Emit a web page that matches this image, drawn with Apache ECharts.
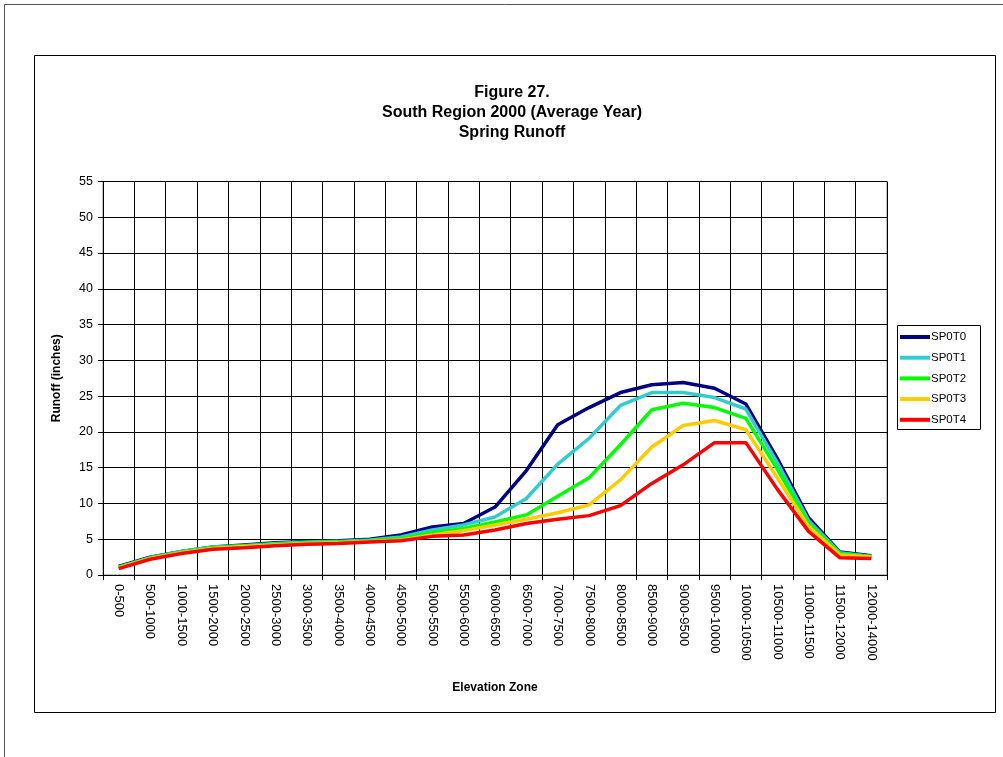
<!DOCTYPE html>
<html>
<head>
<meta charset="utf-8">
<title>Spring Runoff</title>
<script src="https://cdn.jsdelivr.net/npm/echarts@6/dist/echarts.min.js"></script>
<style>
  html, body { margin: 0; padding: 0; background: #fff; }
  #chart { width: 1003px; height: 757px; }
</style>
</head>
<body>
<div id="chart"></div>
<script>
// Elevation zones (feet)
const zones = [
  '0-500', '500-1000', '1000-1500', '1500-2000', '2000-2500', '2500-3000',
  '3000-3500', '3500-4000', '4000-4500', '4500-5000', '5000-5500', '5500-6000',
  '6000-6500', '6500-7000', '7000-7500', '7500-8000', '8000-8500', '8500-9000',
  '9000-9500', '9500-10000', '10000-10500', '10500-11000', '11000-11500',
  '11500-12000', '12000-14000'
];

// Spring runoff (inches) per scenario
const sp0t0 = [1.2, 2.5, 3.3, 3.9, 4.2, 4.5, 4.7, 4.8, 5.0, 5.6, 6.7, 7.2, 9.5, 14.6, 21.0, 23.4, 25.5, 26.6, 26.9, 26.1, 23.9, 16.3, 8.0, 3.2, 2.7];
const sp0t1 = [1.1, 2.4, 3.3, 3.9, 4.1, 4.4, 4.6, 4.7, 4.9, 5.3, 6.3, 7.0, 8.1, 10.7, 15.5, 19.1, 23.7, 25.5, 25.5, 24.8, 23.2, 15.7, 7.6, 3.1, 2.6];
const sp0t2 = [1.1, 2.4, 3.2, 3.8, 4.1, 4.3, 4.5, 4.6, 4.8, 5.1, 5.9, 6.5, 7.4, 8.4, 11.0, 13.6, 18.2, 23.1, 24.0, 23.4, 21.9, 14.8, 7.2, 3.0, 2.6];
const sp0t3 = [1.0, 2.3, 3.1, 3.7, 4.0, 4.2, 4.4, 4.5, 4.7, 4.9, 5.6, 6.2, 7.0, 7.8, 8.7, 9.8, 13.3, 17.9, 20.9, 21.6, 20.3, 13.6, 6.8, 2.8, 2.5];
const sp0t4 = [0.9, 2.2, 3.0, 3.6, 3.8, 4.1, 4.3, 4.4, 4.6, 4.8, 5.4, 5.6, 6.3, 7.2, 7.8, 8.3, 9.7, 12.8, 15.4, 18.5, 18.5, 12.0, 6.1, 2.4, 2.3];

const seriesNames = ['SP0T0', 'SP0T1', 'SP0T2', 'SP0T3', 'SP0T4'];
const seriesData = [sp0t0, sp0t1, sp0t2, sp0t3, sp0t4];
const seriesColors = ['#000080', '#33CCCC', '#00FF00', '#FFCC00', '#FF0000'];

const FONT = '"Liberation Sans", Arial, sans-serif';

const chart = echarts.init(document.getElementById('chart'), null, { renderer: 'canvas' });

chart.setOption({
  backgroundColor: '#ffffff',
  animation: false,
  title: {
    text: 'Figure 27.\nSouth Region 2000 (Average Year)\nSpring Runoff',
    left: 512,
    top: 83,
    padding: 0,
    textAlign: 'center',
    textStyle: { fontFamily: FONT, fontSize: 16, fontWeight: 'bold', color: '#000', lineHeight: 20 }
  },
  graphic: [
    {
      type: 'rect', silent: true, z: -1,
      shape: { x: 4.5, y: 4.5, width: 1020, height: 780 },
      style: { fill: null, stroke: '#555', lineWidth: 1 }
    },
    {
      type: 'rect', silent: true, z: -1,
      shape: { x: 34.5, y: 55.5, width: 961, height: 657 },
      style: { fill: '#fff', stroke: '#000', lineWidth: 1 }
    },
    {
      type: 'rect', silent: true, z: 5,
      shape: { x: 897.5, y: 325.5, width: 83, height: 104 },
      style: { fill: '#fff', stroke: '#000', lineWidth: 1 }
    }
  ],
  legend: {
    data: seriesNames,
    orient: 'vertical',
    left: 900,
    top: 330,
    z: 6,
    padding: 0,
    itemWidth: 30,
    itemHeight: 4,
    itemGap: 6.7,
    icon: 'rect',
    textStyle: { fontFamily: FONT, fontSize: 11.5, color: '#000', lineHeight: 14, padding: [0, 0, 0, -4] }
  },
  grid: {
    left: 103,
    right: 116,
    top: 181.5,
    bottom: 182,
    show: true,
    borderColor: '#808080',
    borderWidth: 1,
    backgroundColor: '#fff'
  },
  xAxis: {
    type: 'category',
    data: zones,
    boundaryGap: true,
    name: 'Elevation Zone',
    nameLocation: 'middle',
    nameGap: 107,
    nameTextStyle: { fontFamily: FONT, fontSize: 12, fontWeight: 'bold', color: '#000' },
    axisLine: { lineStyle: { color: '#000', width: 1 } },
    axisTick: { show: true, interval: 0, length: 5, lineStyle: { color: '#000' } },
    splitLine: { show: true, interval: 0, lineStyle: { color: '#000', width: 1 } },
    axisLabel: {
      interval: 0,
      rotate: -90,
      margin: 9,
      fontFamily: FONT,
      fontSize: 13,
      color: '#000'
    }
  },
  yAxis: {
    type: 'value',
    min: 0,
    max: 55,
    interval: 5,
    name: 'Runoff (inches)',
    nameLocation: 'middle',
    nameRotate: 90,
    nameGap: 40,
    nameTextStyle: { fontFamily: FONT, fontSize: 12, fontWeight: 'bold', color: '#000' },
    axisLine: { show: true, lineStyle: { color: '#000', width: 1 } },
    axisTick: { show: true, length: 5, lineStyle: { color: '#000' } },
    splitLine: { show: true, lineStyle: { color: '#000', width: 1 } },
    axisLabel: { fontFamily: FONT, fontSize: 12.5, color: '#000', margin: 10 }
  },
  series: seriesNames.map((name, i) => ({
    name: name,
    type: 'line',
    data: seriesData[i],
    symbol: 'none',
    smooth: false,
    lineStyle: { color: seriesColors[i], width: 3.5 },
    itemStyle: { color: seriesColors[i] },
    z: 2 + i
  }))
});
</script>
</body>
</html>
